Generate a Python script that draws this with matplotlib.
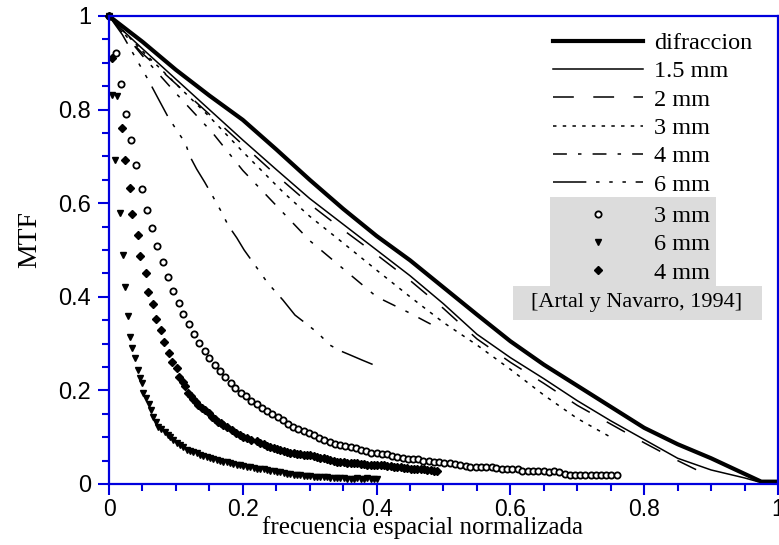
import matplotlib.pyplot as plt
from matplotlib.patches import Rectangle
from matplotlib.ticker import MultipleLocator

plt.rcParams['lines.scale_dashes'] = False

# --- theoretical / computed MTF curves ---
dif_x = [0, 0.02, 0.05, 0.1, 0.15, 0.2, 0.25, 0.3, 0.35, 0.4, 0.45, 0.5, 0.55, 0.6,
         0.65, 0.7, 0.75, 0.8, 0.85, 0.9, 0.93, 0.96, 0.975, 1.0]
dif_y = [1.0, 0.978, 0.945, 0.885, 0.83, 0.778, 0.715, 0.65, 0.588, 0.53, 0.478, 0.42,
         0.362, 0.305, 0.255, 0.21, 0.165, 0.12, 0.085, 0.055, 0.035, 0.015, 0.005, 0.005]

p15_x = [0, 0.02, 0.05, 0.1, 0.15, 0.2, 0.25, 0.3, 0.35, 0.4, 0.45, 0.5, 0.55, 0.6,
         0.65, 0.7, 0.75, 0.8, 0.85, 0.9, 0.95, 0.97]
p15_y = [1.0, 0.97, 0.93, 0.865, 0.80, 0.735, 0.672, 0.61, 0.555, 0.5, 0.445, 0.385,
         0.32, 0.27, 0.225, 0.178, 0.135, 0.095, 0.055, 0.03, 0.013, 0.005]

p2_x = [0, 0.02, 0.05, 0.1, 0.15, 0.2, 0.25, 0.3, 0.35, 0.4, 0.45, 0.5, 0.55, 0.6,
        0.65, 0.7, 0.75, 0.8, 0.85, 0.89]
p2_y = [1.0, 0.965, 0.92, 0.855, 0.79, 0.725, 0.66, 0.598, 0.543, 0.49, 0.435, 0.375,
        0.31, 0.26, 0.215, 0.168, 0.128, 0.088, 0.05, 0.022]

p3_x = [0, 0.05, 0.1, 0.15, 0.2, 0.26, 0.3, 0.35, 0.4, 0.45, 0.5, 0.55, 0.6, 0.65, 0.7, 0.75]
p3_y = [1.0, 0.925, 0.855, 0.785, 0.71, 0.624, 0.572, 0.515, 0.457, 0.4, 0.345, 0.297,
        0.245, 0.19, 0.14, 0.10]

p4_x = [0, 0.03, 0.05, 0.1, 0.155, 0.2, 0.25, 0.3, 0.35, 0.4, 0.45, 0.475, 0.49]
p4_y = [1.0, 0.95, 0.915, 0.835, 0.75, 0.67, 0.595, 0.52, 0.46, 0.40, 0.365, 0.346, 0.335]

p6_x = [0, 0.02, 0.04, 0.06, 0.073, 0.088, 0.103, 0.114, 0.121, 0.131, 0.143, 0.155,
        0.169, 0.178, 0.191, 0.202, 0.215, 0.237, 0.26, 0.278, 0.297, 0.312, 0.33,
        0.345, 0.36, 0.378, 0.4]
p6_y = [1.0, 0.96, 0.91, 0.86, 0.825, 0.785, 0.752, 0.729, 0.70, 0.673, 0.645, 0.615,
        0.579, 0.553, 0.526, 0.50, 0.474, 0.43, 0.393, 0.361, 0.34, 0.323, 0.297,
        0.285, 0.276, 0.265, 0.252]

# --- measured data [Artal y Navarro, 1994] ---
c3_x = [0, 0.010, 0.018, 0.025, 0.033, 0.041, 0.049, 0.057, 0.064, 0.072, 0.080, 0.088,
        0.096, 0.104, 0.111, 0.119, 0.127, 0.135, 0.143, 0.150, 0.158, 0.166, 0.174,
        0.182, 0.189, 0.197, 0.205, 0.213, 0.221, 0.228, 0.236, 0.244, 0.252, 0.260,
        0.267, 0.275, 0.283, 0.291, 0.299, 0.306, 0.314, 0.322, 0.330, 0.338, 0.345,
        0.353, 0.361, 0.369, 0.377, 0.384, 0.392, 0.400, 0.408, 0.416, 0.423, 0.431,
        0.439, 0.447, 0.455, 0.462, 0.470, 0.478, 0.486, 0.494, 0.501, 0.509, 0.517,
        0.525, 0.533, 0.540, 0.548, 0.556, 0.564, 0.572, 0.579, 0.587, 0.595, 0.603,
        0.611, 0.618, 0.626, 0.634, 0.642, 0.650, 0.657, 0.665, 0.673, 0.681, 0.689,
        0.696, 0.704, 0.712, 0.720, 0.728, 0.735, 0.743, 0.751, 0.759]
c3_y = [1.0, 0.921, 0.855, 0.790, 0.735, 0.682, 0.630, 0.585, 0.547, 0.508, 0.474, 0.442,
        0.413, 0.386, 0.364, 0.342, 0.321, 0.302, 0.285, 0.270, 0.255, 0.241, 0.229,
        0.216, 0.206, 0.195, 0.187, 0.177, 0.170, 0.162, 0.156, 0.149, 0.143, 0.136,
        0.129, 0.122, 0.118, 0.113, 0.108, 0.104, 0.098, 0.094, 0.090, 0.086, 0.083,
        0.081, 0.078, 0.077, 0.073, 0.070, 0.066, 0.066, 0.064, 0.064, 0.060, 0.058,
        0.056, 0.054, 0.053, 0.053, 0.050, 0.049, 0.048, 0.046, 0.045, 0.045, 0.043,
        0.041, 0.038, 0.037, 0.037, 0.036, 0.036, 0.036, 0.034, 0.033, 0.032, 0.032,
        0.031, 0.028, 0.027, 0.027, 0.027, 0.027, 0.026, 0.027, 0.026, 0.021, 0.019,
        0.019, 0.019, 0.019, 0.019, 0.019, 0.019, 0.019, 0.019, 0.019]

t6_x = [0, 0.005, 0.012, 0.009, 0.016, 0.021, 0.024, 0.028, 0.031, 0.035, 0.039, 0.043,
        0.047, 0.049, 0.051, 0.055, 0.060, 0.063, 0.066, 0.070, 0.073, 0.078, 0.084,
        0.088, 0.091, 0.096, 0.101, 0.106, 0.111, 0.116, 0.121, 0.126, 0.131, 0.136,
        0.141, 0.146, 0.151, 0.156, 0.161, 0.166, 0.171, 0.176, 0.181, 0.186, 0.191,
        0.196, 0.201, 0.206, 0.211, 0.216, 0.221, 0.226, 0.231, 0.236, 0.241, 0.246,
        0.251, 0.256, 0.261, 0.266, 0.271, 0.276, 0.281, 0.286, 0.291, 0.296, 0.301,
        0.306, 0.311, 0.316, 0.321, 0.326, 0.331, 0.336, 0.341, 0.346, 0.351, 0.356,
        0.361, 0.366, 0.371, 0.376, 0.381, 0.386, 0.391, 0.396, 0.400]
t6_y = [1.0, 0.832, 0.828, 0.692, 0.579, 0.489, 0.421, 0.359, 0.314, 0.290, 0.269, 0.244,
        0.227, 0.215, 0.194, 0.183, 0.172, 0.158, 0.144, 0.133, 0.122, 0.117, 0.111,
        0.105, 0.100, 0.094, 0.087, 0.083, 0.078, 0.073, 0.071, 0.068, 0.066, 0.063,
        0.060, 0.058, 0.055, 0.053, 0.051, 0.049, 0.047, 0.046, 0.044, 0.043, 0.041,
        0.040, 0.039, 0.037, 0.036, 0.034, 0.033, 0.032, 0.031, 0.029, 0.028, 0.027,
        0.026, 0.025, 0.023, 0.022, 0.021, 0.020, 0.019, 0.019, 0.018, 0.017, 0.017,
        0.016, 0.016, 0.015, 0.015, 0.014, 0.013, 0.013, 0.012, 0.012, 0.012, 0.011,
        0.011, 0.011, 0.012, 0.011, 0.011, 0.012, 0.011, 0.011, 0.011]

d4_x = [0, 0.004, 0.020, 0.024, 0.031, 0.035, 0.044, 0.047, 0.055, 0.059, 0.066, 0.070,
        0.078, 0.082, 0.090, 0.094, 0.101, 0.104, 0.110, 0.114, 0.118, 0.122, 0.126,
        0.130, 0.133, 0.139, 0.144, 0.149, 0.154, 0.159, 0.163, 0.167, 0.171, 0.177,
        0.184, 0.190, 0.196, 0.201, 0.206, 0.213, 0.221, 0.226, 0.231, 0.236, 0.241,
        0.246, 0.251, 0.256, 0.261, 0.266, 0.271, 0.276, 0.281, 0.286, 0.291, 0.296,
        0.301, 0.306, 0.311, 0.316, 0.321, 0.326, 0.331, 0.336, 0.341, 0.346, 0.351,
        0.356, 0.361, 0.366, 0.371, 0.376, 0.381, 0.386, 0.391, 0.396, 0.401, 0.406,
        0.411, 0.416, 0.421, 0.426, 0.431, 0.436, 0.441, 0.446, 0.451, 0.456, 0.461,
        0.466, 0.471, 0.476, 0.481, 0.486, 0.491]
d4_y = [1.0, 0.910, 0.761, 0.692, 0.632, 0.577, 0.532, 0.487, 0.450, 0.410, 0.385, 0.352,
        0.329, 0.304, 0.280, 0.261, 0.247, 0.229, 0.218, 0.209, 0.194, 0.188, 0.181,
        0.175, 0.169, 0.163, 0.158, 0.151, 0.144, 0.138, 0.133, 0.130, 0.126, 0.121,
        0.115, 0.110, 0.105, 0.101, 0.098, 0.095, 0.091, 0.088, 0.085, 0.082, 0.080,
        0.077, 0.075, 0.073, 0.071, 0.069, 0.067, 0.066, 0.065, 0.064, 0.063, 0.062,
        0.061, 0.059, 0.058, 0.056, 0.055, 0.053, 0.051, 0.049, 0.048, 0.047, 0.046,
        0.045, 0.044, 0.044, 0.044, 0.043, 0.042, 0.041, 0.041, 0.041, 0.040, 0.040,
        0.040, 0.039, 0.038, 0.037, 0.036, 0.036, 0.035, 0.034, 0.033, 0.033, 0.032,
        0.031, 0.031, 0.030, 0.029, 0.028, 0.028]

ticks = [0, 0.2, 0.4, 0.6, 0.8, 1.0]
tick_labels = ['0', '0.2', '0.4', '0.6', '0.8', '1']

BLUE = '#0000dd'
GRAY = '#dcdcdc'
SERIF = 'Liberation Serif'
SANS = 'Liberation Sans'

fig = plt.figure(figsize=(7.79, 5.45), dpi=100)
ax = fig.add_axes([109 / 779, 61 / 545, 669 / 779, 468 / 545])

lw = 1.1
l_dif, = ax.plot(dif_x, dif_y, color='black', lw=3.0, label='difraccion', clip_on=False)
l15, = ax.plot(p15_x, p15_y, color='black', lw=lw, label='1.5 mm')
l2, = ax.plot(p2_x, p2_y, color='black', lw=lw, dashes=(15, 14), label='2 mm')
l3, = ax.plot(p3_x, p3_y, color='black', lw=lw, dashes=(2.5, 4.5), label='3 mm')
l4, = ax.plot(p4_x, p4_y, color='black', lw=lw, dashes=(10, 8, 2.5, 8), label='4 mm')
l6, = ax.plot(p6_x, p6_y, color='black', lw=lw,
              dashes=(24, 7, 2.5, 7, 2.5, 7, 2.5, 7), label='6 mm')

m3, = ax.plot(c3_x, c3_y, 'o', ms=4.5, mfc='white', mec='black', mew=1.3,
              linestyle='none', label='3 mm', clip_on=False)
m6, = ax.plot(t6_x, t6_y, 'v', ms=5.0, color='black', linestyle='none',
              label='6 mm', clip_on=False)
m4, = ax.plot(d4_x, d4_y, 'D', ms=3.8, color='black', linestyle='none',
              label='4 mm', clip_on=False)

ax.set_xlim(0, 1)
ax.set_ylim(0, 1)
ax.set_xticks(ticks, tick_labels, fontfamily=SANS, fontsize=16.5)
ax.set_yticks(ticks, tick_labels, fontfamily=SANS, fontsize=17)
ax.xaxis.set_minor_locator(MultipleLocator(0.05))
ax.yaxis.set_minor_locator(MultipleLocator(0.05))
ax.tick_params(which='both', direction='out', color=BLUE, width=1.5,
               top=False, right=False)
ax.tick_params(which='major', length=8, pad=3)
ax.tick_params(axis='x', which='major', pad=2)
ax.tick_params(axis='y', which='major', pad=5)
ax.tick_params(which='minor', length=5)
for s in ax.spines.values():
    s.set_color(BLUE)
    s.set_linewidth(1.6)

fig.text(30 / 779, 1 - 240 / 545, 'MTF', rotation=90, family=SERIF, fontsize=20,
         ha='center', va='center')
fig.text(422 / 779, 1 - 528 / 545, 'frecuencia espacial normalizada', family=SERIF,
         fontsize=18, ha='center', va='center')

# legend: computed curves
leg1 = ax.legend(handles=[l_dif, l15, l2, l3, l4, l6], loc='upper left',
                 bbox_to_anchor=(553 / 779, 1 - 32 / 545), bbox_transform=fig.transFigure,
                 frameon=False, borderpad=0, borderaxespad=0, handlelength=3.7,
                 handletextpad=0.45, labelspacing=0.26, prop={'family': SERIF, 'size': 17.5})
ax.add_artist(leg1)

# legend: measured data, on gray background
ax.add_patch(Rectangle((550 / 779, 1 - 286 / 545), 166 / 779, 89 / 545, transform=fig.transFigure,
                       facecolor=GRAY, edgecolor='none', zorder=4, clip_on=False))
ax.add_patch(Rectangle((513 / 779, 1 - 320 / 545), 249 / 779, 34 / 545, transform=fig.transFigure,
                       facecolor=GRAY, edgecolor='none', zorder=4, clip_on=False))
leg2 = ax.legend(handles=[m3, m6, m4], loc='upper left',
                 bbox_to_anchor=(553 / 779, 1 - 205 / 545), bbox_transform=fig.transFigure,
                 frameon=False, borderpad=0, borderaxespad=0, handlelength=3.7,
                 handletextpad=0.45, labelspacing=0.26, numpoints=1,
                 prop={'family': SERIF, 'size': 17.5})
fig.text(637 / 779, 1 - 303 / 545, '[Artal y Navarro, 1994]', family=SERIF, fontsize=16,
         ha='center', va='center', zorder=6)

fig.savefig('out.png', dpi=100)
